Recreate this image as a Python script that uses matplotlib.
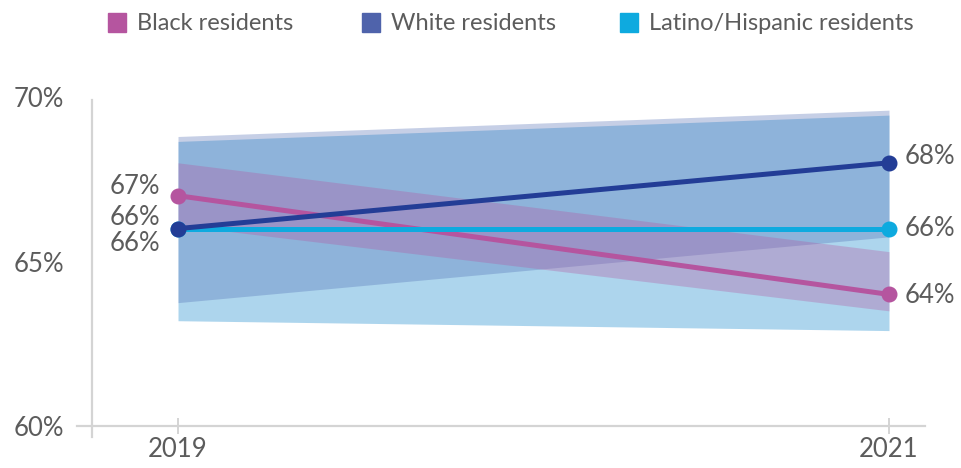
import matplotlib
matplotlib.use("Agg")
import matplotlib.pyplot as plt
from matplotlib.patches import Rectangle

# data
years = [2019, 2021]
groups = ["Black residents", "White residents", "Latino/Hispanic residents"]
values = {
    "Black residents": [67, 64],
    "White residents": [66, 68],
    "Latino/Hispanic residents": [66, 66],
}
lower = {
    "Black residents": [66.1, 63.5],
    "White residents": [63.75, 65.75],
    "Latino/Hispanic residents": [63.2, 62.9],
}
upper = {
    "Black residents": [68.0, 65.3],
    "White residents": [68.8, 69.6],
    "Latino/Hispanic residents": [68.65, 69.45],
}
yticks = [60, 65, 70]

line_col = {"Black residents": "#b5559f", "White residents": "#233d96",
            "Latino/Hispanic residents": "#0eaadf"}
band_col = {"Black residents": "#b5559f", "White residents": "#4f6cb2",
            "Latino/Hispanic residents": "#007fca"}
legend_col = {"Black residents": "#b5559f", "White residents": "#4f63ab",
              "Latino/Hispanic residents": "#0eaadf"}
zord = {"Black residents": 4, "White residents": 6, "Latino/Hispanic residents": 5}
# label offsets in pixels (dy) for the 2019 / 2021 ends
left_off = {"Black residents": 9, "White residents": 11, "Latino/Hispanic residents": -15}
right_off = {"Black residents": -1, "White residents": 6, "Latino/Hispanic residents": 0}

plt.rcParams['font.family'] = ['Lato', 'DejaVu Sans']
txt = "#5c5c5c"
grey = "#d4d4d4"
px = 0.72  # pixel -> point at dpi 100
fs = 18.5

fig = plt.figure(figsize=(9.62, 4.68), dpi=100)
ax = fig.add_axes([77/962, 1-437/468, (925-77)/962, (437-97)/468])

per_year = (889 - 178) / 2.0
ax.set_xlim(2019 - 101/per_year, 2021 + 36/per_year)
ax.set_ylim(60 - 11/32.9, 70)

# bands: latino, white, black
for g in ["Latino/Hispanic residents", "White residents", "Black residents"]:
    ax.fill_between(years, lower[g], upper[g], color=band_col[g], alpha=0.32,
                    linewidth=0, zorder=1)

for g in groups:
    ax.plot(years, values[g], color=line_col[g], lw=3.6, marker='o', ms=10.5,
            solid_capstyle='butt', zorder=zord[g])
    ax.annotate(f"{values[g][0]}%", (years[0], values[g][0]),
                xytext=(-18*px, left_off[g]*px), textcoords='offset points',
                ha='right', va='center', fontsize=fs, color=txt)
    ax.annotate(f"{values[g][1]}%", (years[1], values[g][1]),
                xytext=(16*px, right_off[g]*px), textcoords='offset points',
                ha='left', va='center', fontsize=fs, color=txt)

for s in ['top', 'right']:
    ax.spines[s].set_visible(False)
ax.spines['bottom'].set_position(('data', 60))
ax.spines['bottom'].set_color(grey)
ax.spines['bottom'].set_linewidth(1.6)
ax.spines['left'].set_position(('data', 2019 - 86/per_year))
ax.spines['left'].set_bounds(60 - 11/32.9, 69.9)
ax.spines['left'].set_color(grey)
ax.spines['left'].set_linewidth(1.6)

ax.set_xticks(years)
ax.set_xticklabels([str(y) for y in years])
ax.tick_params(axis='x', direction='inout', length=12, width=1.4, color=grey,
               labelsize=fs, labelcolor=txt, pad=2)
ax.set_yticks(yticks)
ax.set_yticklabels([f"{t}%" for t in yticks])
ax.tick_params(axis='y', length=0, labelsize=fs, labelcolor=txt, pad=20)

# legend
leg_x = [108, 362, 620]
for g, x0 in zip(groups, leg_x):
    fig.patches.append(Rectangle((x0/962, 1-32/468), 18/962, 19/468,
                                 transform=fig.transFigure, color=legend_col[g]))
    fig.text((x0+29)/962, 1-23/468, g, ha='left', va='center', fontsize=17,
             color=txt)

fig.savefig("out.png", dpi=100)
